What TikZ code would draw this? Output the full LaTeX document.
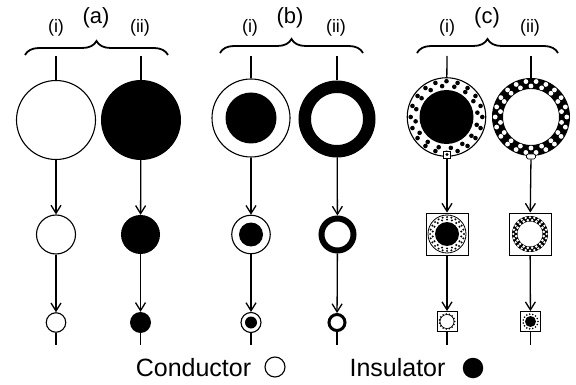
\documentclass[tikz,border=0pt]{standalone}
\usepackage{fontspec}
\setmainfont{Liberation Sans}
\usetikzlibrary{arrows.meta,decorations.pathreplacing}
\begin{document}
\begin{tikzpicture}[x=1pt,y=-1pt,
  wire/.style={line width=1.3pt},
  flow/.style={wire,-{Straight Barb[length=8pt,width=10pt]}},
  cond/.style={circle,draw,line width=1.1pt,fill=white,inner sep=0pt,minimum size=#1},
  insu/.style={circle,fill=black,inner sep=0pt,minimum size=#1},
  ring/.style={circle,draw,fill=white,inner sep=0pt},
  cell/.style={rectangle,draw,line width=0.9pt,fill=white,inner sep=0pt,minimum size=#1},
  brc/.style={decorate,decoration={brace,amplitude=14pt},line width=1.8pt},
  lbl/.style={font=\fontsize{18}{20}\selectfont,anchor=base},
  hdr/.style={font=\fontsize{22}{24}\selectfont,anchor=base},
  key/.style={font=\fontsize{25}{28}\selectfont,anchor=base}]
\useasboundingbox (0,0) rectangle (576,385);

% ---- group headers and braces
\node[hdr] (ha) at (96,24) {(a)};
\node[hdr] (hb) at (290,24) {(b)};
\node[hdr] (hc) at (487,24) {(c)};
\node[lbl] (ha1) at (56,33) {(i)};
\node[lbl] (ha2) at (140,33) {(ii)};
\node[lbl] (hb1) at (250,33) {(i)};
\node[lbl] (hb2) at (336,33) {(ii)};
\node[lbl] (hc1) at (447,33) {(i)};
\node[lbl] (hc2) at (530,33) {(ii)};
\draw[brc] (25,55) -- (168,55);
\draw[brc] (220,53) -- (363,53);
\draw[brc] (417,53) -- (558,53);

% ---- column a(i): conductor
\node[cond=79pt] (a1L) at (56,120) {};
\node[cond=39pt] (a1M) at (56,234.5) {};
\node[cond=19.5pt] (a1S) at (56,322.5) {};
\coordinate (a1T) at (56,56);
\coordinate (a1B) at (56,345);

% ---- column a(ii): insulator
\node[insu=80pt] (a2L) at (141,120) {};
\node[insu=39pt] (a2M) at (140.5,234.5) {};
\node[insu=21pt] (a2S) at (140.5,322.5) {};
\coordinate (a2T) at (141,56);
\coordinate (a2B) at (140.5,345);

% ---- column b(i): conductor shell, insulator core
\node[cond=78pt] (b1L) at (251,118) {};
\fill (b1L.center) circle (25.5pt);
\node[cond=38.5pt] (b1M) at (251,234.5) {};
\fill (b1M.center) circle (12pt);
\node[cond=20pt] (b1S) at (251,322.5) {};
\fill (b1S.center) circle (6pt);
\coordinate (b1T) at (251,56);
\coordinate (b1B) at (251,345);

% ---- column b(ii): insulator shell, conductor core
\node[ring,line width=12.5pt,minimum size=64.5pt] (b2L) at (337,119) {};
\node[ring,line width=6pt,minimum size=32pt] (b2M) at (337.5,234.5) {};
\node[ring,line width=3pt,minimum size=16pt] (b2S) at (337,322.5) {};
\coordinate (b2T) at (337,56);
\coordinate (b2B) at (337,345);

% ---- column c(i): dotted conductor shell, insulator core
\node[cond=78.5pt] (c1L) at (446.5,117) {};
\begin{scope}[shift={(c1L.center)}]
  \foreach \a in {0,22.5,...,337.5} \fill ({\a+8}:31.2pt) circle (2.3pt);
  \foreach \a in {0,18,...,342} \fill ({\a}:35.8pt) circle (2.3pt);
  \fill (0,0) circle (27pt);
\end{scope}
\node[cell=7pt,line width=0.8pt] (c1t) at (447,154.5) {};
\fill (c1t.center) circle (1.6pt);
\node[cell=42pt] (c1M) at (447,234) {};
\begin{scope}[shift={(c1M.center)}]
  \draw[line width=0.8pt] (0,0) circle (19pt);
  \foreach \a in {0,20,...,340} \fill ({\a+10}:14.4pt) circle (1.1pt);
  \foreach \a in {0,15,...,345} \fill ({\a}:16.9pt) circle (1.1pt);
  \fill (0,0) circle (12pt);
\end{scope}
\node[cell=20pt] (c1S) at (447,321.5) {};
\begin{scope}[shift={(c1S.center)}]
  \draw[line width=0.6pt] (0,0) circle (7pt);
  \foreach \a in {0,24,...,336} \fill ({\a}:7.6pt) circle (0.9pt);
\end{scope}
\coordinate (c1T) at (447,56);
\coordinate (c1B) at (447,345);

% ---- column c(ii): dotted insulator shell, conductor core
\node[ring,line width=11pt,minimum size=67pt] (c2L) at (531,117) {};
\begin{scope}[shift={(c2L.center)}]
  \foreach \a in {0,20,...,340} \fill[white] ({\a+10}:31pt) circle (2.4pt);
  \foreach \a in {0,16.36,...,350} \fill[white] ({\a}:35.8pt) circle (2.4pt);
\end{scope}
\node[rectangle,rounded corners=1.5pt,draw,fill=white,line width=0.7pt,
      minimum width=9pt,minimum height=5pt,inner sep=0pt] (c2t) at (531,156.5) {};
\node[cell=42pt] (c2M) at (530,234) {};
\begin{scope}[shift={(c2M.center)}]
  \draw[line width=5.5pt] (0,0) circle (15.25pt);
  \foreach \a in {0,18,...,342} \fill[white] ({\a+9}:14pt) circle (1.4pt);
  \foreach \a in {0,15,...,345} \fill[white] ({\a}:16.6pt) circle (1.3pt);
\end{scope}
\node[cell=20pt] (c2S) at (530.5,321.5) {};
\begin{scope}[shift={(c2S.center)}]
  \fill (0,0) circle (5.5pt);
  \foreach \a in {0,24,...,336} \fill ({\a}:7.4pt) circle (0.9pt);
\end{scope}
\coordinate (c2T) at (531,56);
\coordinate (c2B) at (530.5,345);

% ---- connectors
\foreach \c in {a1,a2,b1,b2} {
  \draw[wire] (\c T) -- (\c L);
  \draw[flow] (\c L) -- (\c M);
  \draw[flow] (\c M) -- (\c S);
  \draw[wire] (\c S) -- (\c B);
}
\draw[wire] (c1T) -- (c1L);
\draw[flow] (c1t) -- (c1M);
\draw[flow] (c1M) -- (c1S);
\draw[wire] (c1S) -- (c1B);
\draw[wire] (c2T) -- (c2L);
\draw[flow] (c2t) -- (c2M);
\draw[flow] (c2M) -- (c2S);
\draw[wire] (c2S) -- (c2B);

% ---- legend
\node[key] (kc) at (193.5,376) {Conductor};
\node[cond=20pt] (kco) at (275,367) {};
\node[key] (ki) at (397.5,376) {Insulator};
\node[insu=20.5pt] (kin) at (473,368) {};
\end{tikzpicture}
\end{document}
